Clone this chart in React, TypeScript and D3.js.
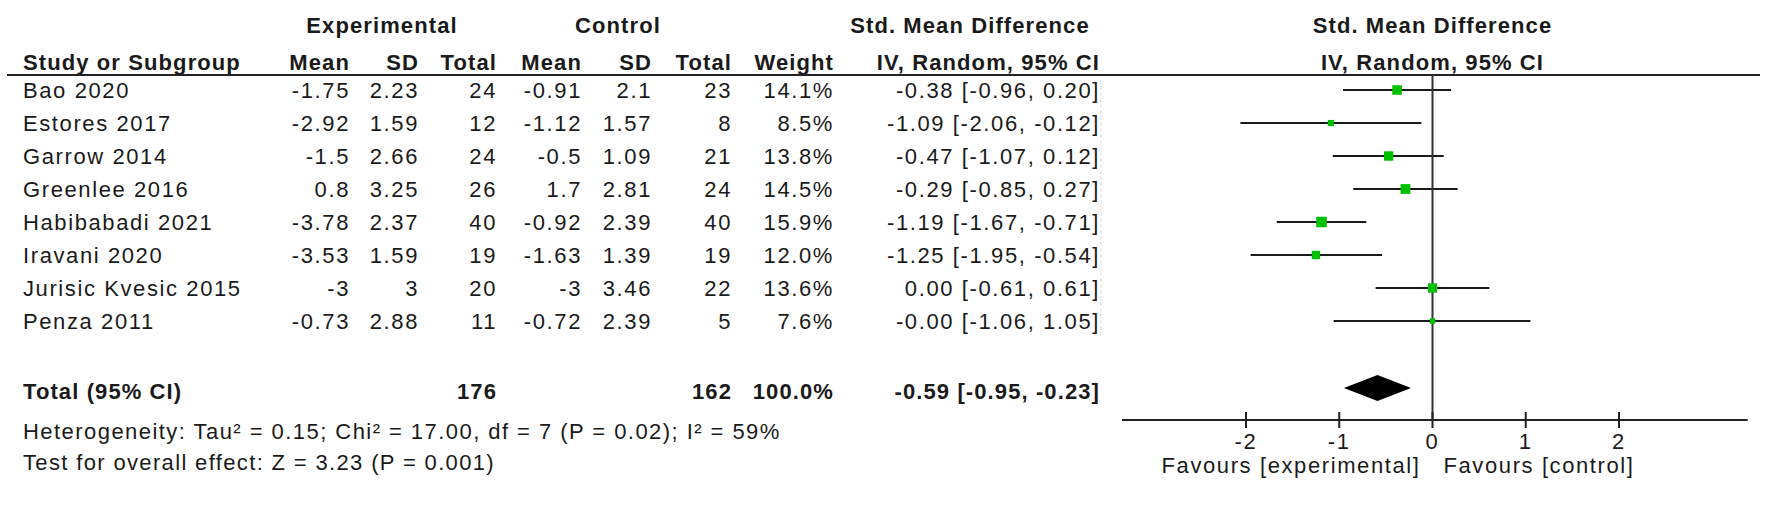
import React from "react";
import * as d3 from "d3";

const studies = ["Bao 2020", "Estores 2017", "Garrow 2014", "Greenlee 2016", "Habibabadi 2021", "Iravani 2020", "Jurisic Kvesic 2015", "Penza 2011"];
const expMean = ["-1.75", "-2.92", "-1.5", "0.8", "-3.78", "-3.53", "-3", "-0.73"];
const expSD = ["2.23", "1.59", "2.66", "3.25", "2.37", "1.59", "3", "2.88"];
const expTotal = [24, 12, 24, 26, 40, 19, 20, 11];
const ctrlMean = ["-0.91", "-1.12", "-0.5", "1.7", "-0.92", "-1.63", "-3", "-0.72"];
const ctrlSD = ["2.1", "1.57", "1.09", "2.81", "2.39", "1.39", "3.46", "2.39"];
const ctrlTotal = [23, 8, 21, 24, 40, 19, 22, 5];
const weights = [14.1, 8.5, 13.8, 14.5, 15.9, 12.0, 13.6, 7.6];
const smd = [-0.38, -1.09, -0.47, -0.29, -1.19, -1.25, 0.0, -0.0];
const ciLow = [-0.96, -2.06, -1.07, -0.85, -1.67, -1.95, -0.61, -1.06];
const ciHigh = [0.2, -0.12, 0.12, 0.27, -0.71, -0.54, 0.61, 1.05];
const smdLabels = ["-0.38", "-1.09", "-0.47", "-0.29", "-1.19", "-1.25", "0.00", "-0.00"];

const totalExp = 176;
const totalCtrl = 162;
const totalWeight = "100.0%";
const pooled = { est: -0.59, lo: -0.95, hi: -0.23, label: "-0.59 [-0.95, -0.23]" };
const heterogeneity = "Heterogeneity: Tau² = 0.15; Chi² = 17.00, df = 7 (P = 0.02); I² = 59%";
const overallTest = "Test for overall effect: Z = 3.23 (P = 0.001)";
const axisTicks = [-2, -1, 0, 1, 2];
const axisExtent = [-3.33, 3.38];
const favoursLeft = "Favours [experimental]";
const favoursRight = "Favours [control]";

const FONT = "'Liberation Sans', Arial, sans-serif";

export default function App() {
  const W = 1772, H = 509;
  const x = d3.scaleLinear().domain([-2, 2]).range([1246, 1619]);
  const rowY = d3.scaleLinear().domain([0, 1]).range([90, 123]);
  const sq = d3.scaleSqrt().domain([7.6, 15.9]).range([5.5, 10.5]);
  const fmtW = (w: number) => w.toFixed(1) + "%";

  const txt = { fontFamily: FONT, fontSize: 22, letterSpacing: 1.6, fill: "#1a1a1a" } as const;
  const bold = { fontFamily: FONT, fontSize: 22, fontWeight: 700, letterSpacing: 1.1, fill: "#1a1a1a" } as const;
  const off = 8; // baseline offset from center

  const cols = { study: 23, eMean: 350, eSD: 419, eTot: 497, cMean: 582, cSD: 652, cTot: 732, w: 834, ci: 1100 };

  const totalY = 391;
  const axisY = 420;
  const lineY = 75;

  return (
    <svg width={W} height={H} style={{ position: "absolute", left: 0, top: 0, background: "#fff" }}>
      <rect width={W} height={H} fill="#fff" />
      {/* Header row 1 */}
      <text {...bold} x={382} y={25 + off} textAnchor="middle">Experimental</text>
      <text {...bold} x={618} y={25 + off} textAnchor="middle">Control</text>
      <text {...bold} x={970} y={25 + off} textAnchor="middle">Std. Mean Difference</text>
      <text {...bold} x={x(0)} y={25 + off} textAnchor="middle">Std. Mean Difference</text>
      {/* Header row 2 */}
      <text {...bold} x={cols.study} y={62 + off}>Study or Subgroup</text>
      <text {...bold} x={cols.eMean} y={62 + off} textAnchor="end">Mean</text>
      <text {...bold} x={cols.eSD} y={62 + off} textAnchor="end">SD</text>
      <text {...bold} x={cols.eTot} y={62 + off} textAnchor="end">Total</text>
      <text {...bold} x={cols.cMean} y={62 + off} textAnchor="end">Mean</text>
      <text {...bold} x={cols.cSD} y={62 + off} textAnchor="end">SD</text>
      <text {...bold} x={cols.cTot} y={62 + off} textAnchor="end">Total</text>
      <text {...bold} x={cols.w} y={62 + off} textAnchor="end">Weight</text>
      <text {...bold} x={cols.ci} y={62 + off} textAnchor="end">IV, Random, 95% CI</text>
      <text {...bold} x={x(0)} y={62 + off} textAnchor="middle">IV, Random, 95% CI</text>
      <line x1={7} x2={1760} y1={lineY} y2={lineY} stroke="#222" strokeWidth={2} />

      {/* faint separator */}
      <line x1={1101} x2={1101} y1={80} y2={336} stroke="#dcdcdc" strokeWidth={1} strokeDasharray="4,2" />

      {/* Study rows */}
      {studies.map((s, i) => {
        const y = rowY(i);
        return (
          <g key={s}>
            <text {...txt} x={cols.study} y={y + off}>{s}</text>
            <text {...txt} x={cols.eMean} y={y + off} textAnchor="end">{expMean[i]}</text>
            <text {...txt} x={cols.eSD} y={y + off} textAnchor="end">{expSD[i]}</text>
            <text {...txt} x={cols.eTot} y={y + off} textAnchor="end">{expTotal[i]}</text>
            <text {...txt} x={cols.cMean} y={y + off} textAnchor="end">{ctrlMean[i]}</text>
            <text {...txt} x={cols.cSD} y={y + off} textAnchor="end">{ctrlSD[i]}</text>
            <text {...txt} x={cols.cTot} y={y + off} textAnchor="end">{ctrlTotal[i]}</text>
            <text {...txt} x={cols.w} y={y + off} textAnchor="end">{fmtW(weights[i])}</text>
            <text {...txt} x={cols.ci} y={y + off} textAnchor="end">
              {`${smdLabels[i]} [${ciLow[i].toFixed(2)}, ${ciHigh[i].toFixed(2)}]`}
            </text>
            <line x1={x(ciLow[i])} x2={x(ciHigh[i])} y1={y} y2={y} stroke="#1a1a1a" strokeWidth={2.2} />
          </g>
        );
      })}

      {/* zero line */}
      <line x1={x(0)} x2={x(0)} y1={lineY} y2={axisY} stroke="#333" strokeWidth={2} />

      {studies.map((s, i) => {
        const y = rowY(i);
        const side = sq(weights[i]);
        return <rect key={s + "sq"} x={x(smd[i]) - side / 2} y={y - side / 2} width={side} height={side} fill="#00c000" />;
      })}

      {/* Total row */}
      <text {...bold} x={cols.study} y={totalY + off}>Total (95% CI)</text>
      <text {...bold} x={cols.eTot} y={totalY + off} textAnchor="end">{totalExp}</text>
      <text {...bold} x={cols.cTot} y={totalY + off} textAnchor="end">{totalCtrl}</text>
      <text {...bold} x={cols.w} y={totalY + off} textAnchor="end">{totalWeight}</text>
      <text {...bold} x={cols.ci} y={totalY + off} textAnchor="end">{pooled.label}</text>
      <path
        d={`M${x(pooled.lo)},${totalY - 3} L${x(pooled.est)},${totalY - 16} L${x(pooled.hi)},${totalY - 3} L${x(pooled.est)},${totalY + 10} Z`}
        fill="#000"
      />

      <text {...txt} x={cols.study} y={431 + off} letterSpacing={1.45}>{heterogeneity}</text>
      <text {...txt} x={cols.study} y={462 + off} letterSpacing={1.35}>{overallTest}</text>

      {/* Axis */}
      <line x1={x(axisExtent[0])} x2={x(axisExtent[1])} y1={axisY} y2={axisY} stroke="#222" strokeWidth={2} />
      {axisTicks.map((t) => (
        <g key={t}>
          <line x1={x(t)} x2={x(t)} y1={axisY - 8} y2={axisY + 8} stroke="#222" strokeWidth={2} />
          <text {...txt} x={x(t)} y={441 + off} textAnchor="middle">{t}</text>
        </g>
      ))}
      <text {...txt} x={x(0) - 12} y={465 + off} textAnchor="end">{favoursLeft}</text>
      <text {...txt} x={x(0) + 11} y={465 + off} textAnchor="start">{favoursRight}</text>
    </svg>
  );
}
